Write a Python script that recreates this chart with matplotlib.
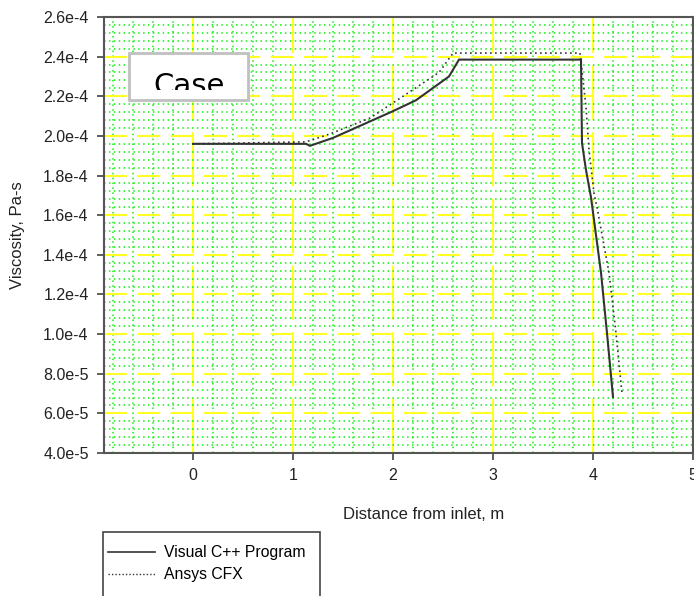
import numpy as np
import matplotlib
matplotlib.use("Agg")
import matplotlib.pyplot as plt
from matplotlib.patches import Rectangle
from matplotlib.lines import Line2D

plt.rcParams['font.family'] = ['Liberation Sans', 'DejaVu Sans']

# Visual C++ Program (solid)
cpp_x = [0.0, 1.13, 1.17, 1.40, 2.00, 2.23, 2.56, 2.66, 3.88, 3.89, 3.93, 3.98, 4.08, 4.14, 4.20]
cpp_y = [1.96e-4, 1.96e-4, 1.95e-4, 1.99e-4, 2.125e-4, 2.18e-4, 2.30e-4, 2.385e-4,
         2.385e-4, 1.964e-4, 1.828e-4, 1.69e-4, 1.31e-4, 1.005e-4, 0.683e-4]

# Ansys CFX (dotted)
cfx_x = [0.0, 1.13, 1.37, 1.77, 2.16, 2.46, 2.60, 3.87, 3.93, 3.96, 4.01, 4.04, 4.16, 4.23, 4.29]
cfx_y = [1.96e-4, 1.97e-4, 2.01e-4, 2.09e-4, 2.22e-4, 2.32e-4, 2.418e-4, 2.418e-4,
         2.146e-4, 1.93e-4, 1.71e-4, 1.64e-4, 1.31e-4, 1.005e-4, 0.70e-4]

x_ticks = [0, 1, 2, 3, 4, 5]
y_ticks = np.arange(4e-5, 2.61e-4, 2e-5)
y_labels = ["4.0e-5", "6.0e-5", "8.0e-5", "1.0e-4", "1.2e-4", "1.4e-4", "1.6e-4",
            "1.8e-4", "2.0e-4", "2.2e-4", "2.4e-4", "2.6e-4"]

W, H = 694, 596
fig = plt.figure(figsize=(W / 100, H / 100), dpi=100)
ax = fig.add_axes([104 / W, (H - 453) / H, 589 / W, 436 / H])

ax.set_xlim(-0.89, 5.0)
ax.set_ylim(4e-5, 2.6e-4)

ax.set_xticks(x_ticks)
ax.set_xticklabels([str(t) for t in x_ticks])
ax.set_yticks(y_ticks)
ax.set_yticklabels(y_labels)
ax.set_xticks(np.arange(-0.8, 5.0, 0.2), minor=True)
ax.set_yticks(np.arange(4e-5, 2.6e-4, 4e-6), minor=True)

ax.tick_params(which='major', direction='out', length=5, width=1.2, color='#444444',
               pad=6, labelsize=11.5, labelcolor='#222222')
ax.tick_params(which='minor', length=0)

# grids
ax.grid(which='minor', color='#11f011', linestyle=(0, (1, 2.2)), linewidth=1.1)
ax.xaxis.grid(which='major', color='#ffff22', linestyle=(0, (26, 6)), linewidth=1.5)
ax.yaxis.grid(which='major', color='#ffff22', linestyle=(0, (11, 5)), linewidth=1.5)
ax.set_axisbelow(True)

for s in ax.spines.values():
    s.set_color('#555555')
    s.set_linewidth(1.5)

ax.plot(cpp_x, cpp_y, color='#333333', linewidth=1.5, solid_joinstyle='miter')
ax.plot(cfx_x, cfx_y, color='#333333', linewidth=1.2, linestyle=(0, (1, 2)))

ax.set_ylabel("Viscosity, Pa-s", fontsize=12, color='#222222')
ax.yaxis.set_label_coords(-79 / 589, 0.5)
ax.set_xlabel("Distance from inlet, m", fontsize=12, color='#222222')
ax.xaxis.set_label_coords((424 - 104) / 589, -(507 - 453) / 436)

# "Case" box (text clipped short of the box bottom)
box = Rectangle((129 / W, (H - 100) / H), 119 / W, 47 / H, transform=fig.transFigure,
                facecolor='white', edgecolor='#c0c0c0', linewidth=2, zorder=5)
fig.patches.append(box)
clip = Rectangle((129 / W, (H - 90) / H), 119 / W, 37 / H, transform=fig.transFigure,
                 facecolor='none', edgecolor='none')
fig.patches.append(clip)
t = fig.text(189 / W, (H - 94) / H, "Case", fontsize=21, family='DejaVu Sans',
             ha='center', va='baseline', color='black', zorder=6)
t.set_clip_path(clip)

# legend box extending past bottom edge
leg_box = Rectangle((103 / W, -10 / H), 217 / W, (10 + 64) / H, transform=fig.transFigure,
                    facecolor='white', edgecolor='#444444', linewidth=1.2)
fig.patches.append(leg_box)
handles = [Line2D([0], [0], color='#333333', linewidth=1.2),
           Line2D([0], [0], color='#333333', linewidth=1.0, linestyle=(0, (1, 1.5)))]
fig.legend(handles, ["Visual C++ Program", "Ansys CFX"], loc='upper left',
           bbox_to_anchor=(108 / W, (H - 545) / H), frameon=False, fontsize=11.3,
           handlelength=3.0, handletextpad=0.6, labelspacing=0.45, borderpad=0,
           borderaxespad=0)

fig.savefig("out.png", dpi=100)
